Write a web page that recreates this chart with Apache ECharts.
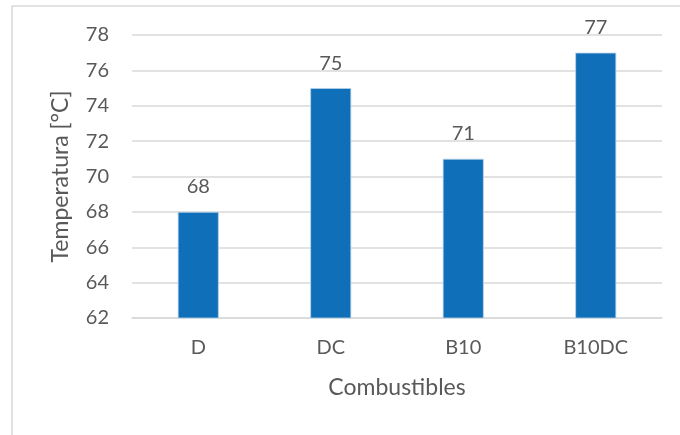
<!DOCTYPE html>
<html>
<head>
<meta charset="utf-8">
<script src="https://cdn.jsdelivr.net/npm/echarts@6/dist/echarts.min.js"></script>
<style>
  html, body { margin: 0; padding: 0; background: #fff; }
  #main { width: 680px; height: 435px; }
</style>
</head>
<body>
<div id="main"></div>
<script>
const categories = ['D', 'DC', 'B10', 'B10DC']
const temperatures = [68, 75, 71, 77]

const font = 'Lato'
const gray = '#595959'

var myChart = echarts.init(document.getElementById('main'))

myChart.setOption({
  animation: false,
  textStyle: { fontFamily: font },
  graphic: [{
    type: 'rect',
    shape: { x: 12, y: 6, width: 700, height: 460 },
    style: { fill: 'none', stroke: '#d9d9d9', lineWidth: 1.5 },
    silent: true
  }],
  grid: { left: 132, right: 18, top: 35, bottom: 117 },
  xAxis: {
    type: 'category',
    data: categories,
    name: 'Combustibles',
    nameLocation: 'middle',
    nameGap: 58,
    nameTextStyle: { color: gray, fontSize: 23, fontFamily: font },
    axisLine: { lineStyle: { color: '#d9d9d9', width: 1.5 } },
    axisTick: { show: false },
    axisLabel: { color: gray, fontSize: 20, margin: 20, fontFamily: font }
  },
  yAxis: {
    type: 'value',
    min: 62,
    max: 78,
    interval: 2,
    name: 'Temperatura [°C]',
    nameLocation: 'middle',
    nameGap: 60,
    nameTextStyle: { color: gray, fontSize: 23, fontFamily: font },
    axisLine: { show: false },
    axisTick: { show: false },
    axisLabel: { color: gray, fontSize: 20, margin: 23, fontFamily: font },
    splitLine: { lineStyle: { color: '#d9d9d9', width: 1.5 } }
  },
  series: [{
    type: 'bar',
    data: temperatures,
    barWidth: 41,
    itemStyle: { color: '#0f6fb8', borderColor: '#b7d3ea', borderWidth: 0.8 },
    label: {
      show: true,
      position: 'top',
      distance: 15,
      color: gray,
      fontSize: 20,
      fontFamily: font
    }
  }]
})
</script>
</body>
</html>
